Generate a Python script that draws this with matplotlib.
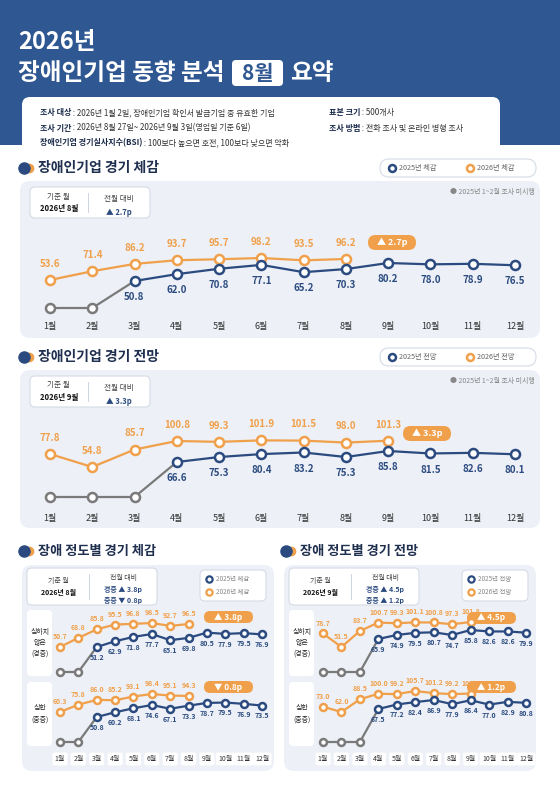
import numpy as np
import matplotlib
matplotlib.use('Agg')
import matplotlib.pyplot as plt
from matplotlib.patches import FancyBboxPatch, Rectangle
from matplotlib.transforms import blended_transform_factory

plt.rcParams['font.family'] = ['Noto Sans CJK KR', 'DejaVu Sans']

# ---- data ----
months = ['1월', '2월', '3월', '4월', '5월', '6월', '7월', '8월', '9월', '10월', '11월', '12월']
nan = np.nan
# 경기 체감
feel_2026 = [53.6, 71.4, 86.2, 93.7, 95.7, 98.2, 93.5, 96.2]
feel_2025 = [nan, nan, 50.8, 62.0, 70.8, 77.1, 65.2, 70.3, 80.2, 78.0, 78.9, 76.5]
# 경기 전망
outl_2026 = [77.8, 54.8, 85.7, 100.8, 99.3, 101.9, 101.5, 98.0, 101.3]
outl_2025 = [nan, nan, nan, 66.6, 75.3, 80.4, 83.2, 75.3, 85.8, 81.5, 82.6, 80.1]
# 장애 정도별 체감
feel_mild_2026 = [50.7, 68.8, 85.8, 95.5, 96.8, 98.5, 92.7, 96.5]
feel_mild_2025 = [nan, nan, 51.2, 62.9, 71.8, 77.7, 65.1, 69.8, 80.5, 77.9, 79.5, 76.9]
feel_sev_2026 = [60.3, 75.8, 86.0, 85.2, 93.1, 98.4, 95.1, 94.3]
feel_sev_2025 = [nan, nan, 50.8, 60.2, 68.1, 74.6, 67.1, 73.3, 78.7, 79.5, 76.9, 73.5]
# 장애 정도별 전망
outl_mild_2026 = [78.7, 51.5, 83.7, 100.7, 99.3, 101.1, 100.8, 97.3, 101.8]
outl_mild_2025 = [nan, nan, nan, 65.9, 74.9, 79.5, 80.7, 74.7, 85.8, 82.6, 82.6, 79.9]
outl_sev_2026 = [73.0, 62.0, 88.5, 100.0, 99.2, 105.7, 101.2, 99.2, 100.4]
outl_sev_2025 = [nan, nan, nan, 67.5, 77.2, 82.4, 86.9, 77.9, 86.4, 77.0, 82.9, 80.8]

NAVY = '#2b4b80'
ORANGE = '#f0a04b'
GRAY = '#7a7a7a'
HEAD = '#2f5792'
PANEL = '#edf0f6'
TXT = '#1f2f4f'

W, H = 560, 792
fig = plt.figure(figsize=(5.6, 7.92), dpi=100)
bg = fig.add_axes([0, 0, 1, 1])
bg.set_xlim(0, W)
bg.set_ylim(H, 0)
bg.axis('off')


def rbox(x0, y0, x1, y1, fc, ec='none', r=8, lw=0.8, z=1):
    bg.add_patch(FancyBboxPatch((x0, y0), x1 - x0, y1 - y0,
                                boxstyle='round,pad=0,rounding_size=%s' % r,
                                fc=fc, ec=ec, lw=lw, zorder=z))


def t(x, y, s, size=6, color=TXT, weight='normal', ha='left', **kw):
    return bg.text(x, y, s, fontsize=size, color=color, fontweight=weight, ha=ha, va='center', zorder=6, **kw)


def kv(x, y, key, val, size=5.8):
    # bold label, normal value right after it
    k = t(x, y, key, size, '#1a2a4a', 'bold')
    fig.canvas.draw() if not hasattr(kv, 'r') else None
    kv.r = fig.canvas.get_renderer()
    bb = k.get_window_extent(renderer=kv.r)
    x1 = bg.transData.inverted().transform((bb.x1, 0))[0]
    t(x1, y, val, size, '#333333')


# header
bg.add_patch(Rectangle((0, 0), W, 145, fc=HEAD, ec='none', zorder=0))
t(18, 42, '2026년', 17, 'white', 'bold')
t(18, 73, '장애인기업 동향 분석', 17, 'white', 'bold')
rbox(232, 60, 283, 86, 'white', r=4, z=2)
t(257.5, 73, '8월', 15, HEAD, 'bold', ha='center')
t(290, 73, '요약', 17, 'white', 'bold')

rbox(22, 97, 500, 152, 'white', r=8, z=1)
kv(40, 113, '조사 대상', ' : 2026년 1월 2일, 장애인기업 확인서 발급기업 중 유효한 기업')
kv(40, 128, '조사 기간', ' : 2026년 8월 27일~ 2026년 9월 3일(영업일 기준 6일)')
kv(40, 143, '장애인기업 경기실사지수(BSI)', ' : 100보다 높으면 호전, 100보다 낮으면 악화')
kv(329, 113, '표본 크기', ' : 500개사')
kv(329, 128, '조사 방법', ' : 전화 조사 및 온라인 병행 조사')


def section_title(x, y, s, size=10):
    bg.plot([x + 9], [y], 'o', ms=6, color=ORANGE, zorder=5)
    bg.plot([x + 4], [y], 'o', ms=8, color=NAVY, zorder=5)
    t(x + 18, y, s, size, TXT, 'bold')


def legend_pill(x0, y0, x1, y1, labels, size=5.2, stacked=False):
    rbox(x0, y0, x1, y1, 'white', '#d5dbe6', r=(y1 - y0) / 2 if not stacked else 5, z=2)
    if stacked:
        for k, (lab, c) in enumerate(zip(labels, [NAVY, ORANGE])):
            yy = y0 + (y1 - y0) * (0.3 + 0.42 * k)
            bg.plot([x0 + 9], [yy], 'o', ms=4.5, mfc='white', mec=c, mew=1.6, zorder=5)
            t(x0 + 16, yy, lab, size, '#888888')
    else:
        xm = (x0 + x1) / 2
        for k, (lab, c) in enumerate(zip(labels, [NAVY, ORANGE])):
            xx = x0 + 12 + k * (xm - x0)
            bg.plot([xx], [(y0 + y1) / 2], 'o', ms=5, mfc='white', mec=c, mew=1.8, zorder=5)
            t(xx + 7, (y0 + y1) / 2, lab, size, '#666666')


def info_box(x0, y0, x1, y1, month, lines, size=5.5):
    rbox(x0, y0, x1, y1, 'white', '#d5dbe6', r=5, z=2)
    xm = x0 + (x1 - x0) * 0.48
    bg.plot([xm, xm], [y0 + 6, y1 - 6], color='#cfd5df', lw=0.7, zorder=5)
    cy = (y0 + y1) / 2
    t((x0 + xm) / 2, cy - 6, '기준 월', size, '#444444', ha='center')
    t((x0 + xm) / 2, cy + 6, month, size, '#111111', 'bold', ha='center')
    n = len(lines)
    step = (y1 - y0) / (n + 1.3)
    t((xm + x1) / 2, y0 + step * 0.9, '전월 대비', size, '#444444', ha='center')
    for k, s in enumerate(lines):
        t((xm + x1) / 2, y0 + step * (1.9 + k), s, size, NAVY, 'bold', ha='center')


def badge(x0, y0, x1, y1, s, size=6.5):
    rbox(x0, y0, x1, y1, ORANGE, r=(y1 - y0) / 2, z=3)
    t((x0 + x1) / 2, (y0 + y1) / 2, s, size, 'white', 'bold', ha='center')


def ylims(a1, a2, top, bot):
    (v1, p1), (v2, p2) = a1, a2
    b = (p1 - p2) / (v2 - v1)
    return v1 - (bot - p1) / b, v1 + (p1 - top) / b, b


def chart(xfirst, xlast, top, bot, s26, s25, an26, an25, gray_px, ms=6.5, fs=7, off=8):
    n = len(months)
    step = (xlast - xfirst) / (n - 1)
    left, right = xfirst - step / 2, xlast + step / 2
    rect = [left / W, 1 - bot / H, (right - left) / W, (bot - top) / H]
    axes = []
    for an in (an26, an25):
        a = fig.add_axes(rect, zorder=4 + len(axes))
        lo, hi, b = ylims(an[0], an[1], top, bot)
        a.set_ylim(lo, hi)
        a.set_xlim(-0.5, n - 0.5)
        a.axis('off')
        a.patch.set_alpha(0)
        axes.append((a, b))
    (a6, _), (a5, b5) = axes
    x = np.arange(n)
    s25 = np.array(s25, dtype=float)
    first = int(np.argmax(~np.isnan(s25)))
    gval = an25[0][0] - (gray_px - an25[0][1]) / b5
    gx = list(x[:first + 1])
    gy = [gval] * first + [s25[first]]
    a5.plot(gx, gy, color=GRAY, lw=1.6, zorder=1)
    a5.plot(x[:first], [gval] * first, 'o', ms=ms, mfc='white', mec=GRAY, mew=1.8, zorder=3)
    a5.plot(x, s25, '-o', color=NAVY, ms=ms, mfc='white', mec=NAVY, mew=1.8, lw=1.6, zorder=2)
    for i in range(first, n):
        a5.annotate('%.1f' % s25[i], (i, s25[i]), xytext=(0, -off), textcoords='offset points',
                    ha='center', va='top', fontsize=fs, color=NAVY, fontweight='bold')
    x6 = np.arange(len(s26))
    a6.plot(x6, s26, '-o', color=ORANGE, ms=ms, mfc='white', mec=ORANGE, mew=1.8, lw=1.6, zorder=2)
    for i, v in enumerate(s26):
        a6.annotate('%.1f' % v, (i, v), xytext=(0, off), textcoords='offset points',
                    ha='center', va='bottom', fontsize=fs, color=ORANGE, fontweight='bold')
    return a6


def month_labels(ax, y, fs, boxes=False):
    tr = blended_transform_factory(ax.transData, bg.transData)
    for i, m in enumerate(months):
        kw = {}
        if boxes:
            kw['bbox'] = dict(boxstyle='round,pad=0.35,rounding_size=0.3', fc='white', ec='none')
        ax.text(i, y, m, transform=tr, fontsize=fs, color='#333333', ha='center', va='center', **kw)


# ---- section 1: 경기 체감 ----
section_title(20, 168, '장애인기업 경기 체감')
legend_pill(380, 159, 536, 177, ['2025년 체감', '2026년 체감'])
rbox(20, 181, 540, 338, PANEL, r=10, z=1)
info_box(30, 187, 150, 218, '2026년 8월', ['▲ 2.7p'])
t(535, 192, '● 2025년 1~2월 조사 미시행', 5, '#888888', ha='right')
a = chart(50, 515, 230, 318, feel_2026, feel_2025, ((53.6, 280), (98.2, 258)),
          ((50.8, 281), (80.2, 263)), 308)
month_labels(a, 326, 6.5)
badge(368, 235, 416, 250, '▲ 2.7p')

# ---- section 2: 경기 전망 ----
section_title(20, 357, '장애인기업 경기 전망')
legend_pill(380, 348, 536, 366, ['2025년 전망', '2026년 전망'])
rbox(20, 370, 540, 528, PANEL, r=10, z=1)
info_box(30, 376, 150, 407, '2026년 9월', ['▲ 3.3p'])
t(535, 381, '● 2025년 1~2월 조사 미시행', 5, '#888888', ha='right')
a = chart(50, 515, 420, 508, outl_2026, outl_2025, ((54.8, 467), (100.8, 441)),
          ((66.6, 462), (85.8, 451)), 497)
month_labels(a, 518, 6.5)
badge(403, 426, 451, 441, '▲ 3.3p')


# ---- section 3/4: 장애 정도별 ----
def bottom_panel(ox, xs0, xs1, title, month, lines, legend, rows, badges):
    section_title(ox + 20, 551, title, 9.5)
    rbox(ox + 22, 565, ox + 274, 771, PANEL, r=10, z=1)
    info_box(ox + 27, 568, ox + 157, 605, month, lines, 5)
    legend_pill(ox + 200, 570, ox + 266, 601, legend, 4.6, stacked=True)
    rbox(ox + 27, 610, ox + 52, 676, 'white', r=4, z=2)
    rbox(ox + 27, 682, ox + 52, 746, 'white', r=4, z=2)
    t(ox + 40, 643, '심하지\n않은\n(경증)', 5, '#222222', ha='center', linespacing=1.5)
    t(ox + 40, 714, '심한\n(중증)', 5, '#222222', ha='center', linespacing=1.5)
    axs = []
    for (s26, s25, an26, an25, gpx, top, bot) in rows:
        axs.append(chart(xs0, xs1, top, bot, s26, s25, an26, an25, gpx, ms=5, fs=5, off=5))
    month_labels(axs[-1], 759, 5, boxes=True)
    for (x0, y0, s) in badges:
        badge(ox + x0, y0, ox + x0 + 49, y0 + 12, s, 6)


bottom_panel(0, 60, 262, '장애 정도별 경기 체감', '2026년 8월', ['경증 ▲ 3.8p', '중증 ▼ 0.8p'],
             ['2025년 체감', '2026년 체감'],
             [(feel_mild_2026, feel_mild_2025, ((50.7, 647), (98.5, 623)), ((51.2, 647), (77.7, 634)), 672, 612, 680),
              (feel_sev_2026, feel_sev_2025, ((60.3, 712), (98.4, 694)), ((50.8, 717), (74.6, 705)), 742, 682, 750)],
             [(204, 611, '▲ 3.8p'), (204, 681, '▼ 0.8p')])
bottom_panel(262, 323, 526, '장애 정도별 경기 전망', '2026년 9월', ['경증 ▲ 4.5p', '중증 ▲ 1.2p'],
             ['2025년 전망', '2026년 전망'],
             [(outl_mild_2026, outl_mild_2025, ((51.5, 647), (101.8, 622)), ((65.9, 639), (85.8, 630)), 672, 612, 680),
              (outl_sev_2026, outl_sev_2025, ((62.0, 712), (105.7, 691)), ((67.5, 709), (86.9, 700)), 742, 682, 750)],
             [(205, 612, '▲ 4.5p'), (205, 681, '▲ 1.2p')])

fig.savefig('out.png', dpi=100)
